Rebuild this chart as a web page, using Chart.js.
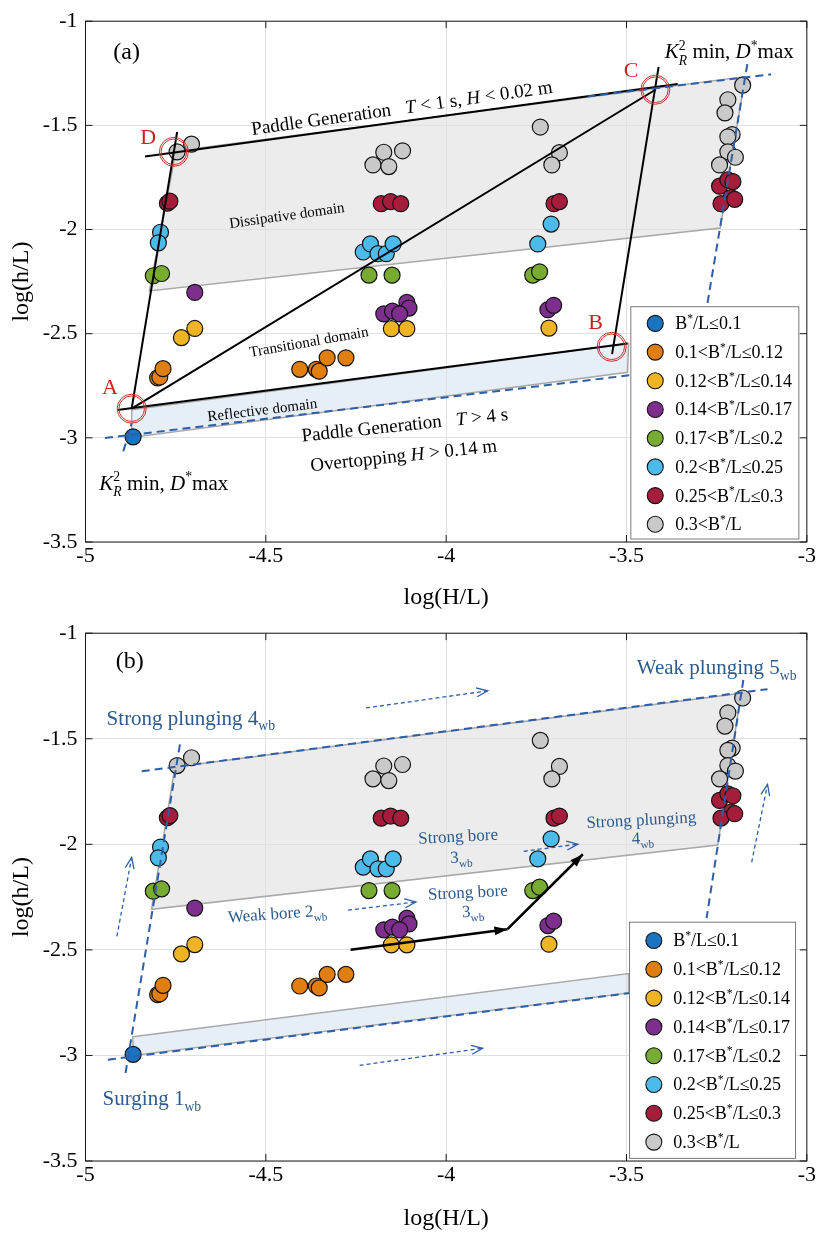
<!DOCTYPE html>
<html>
<head>
<meta charset="utf-8">
<title>log(h/L) vs log(H/L)</title>
<script src="https://cdn.jsdelivr.net/npm/chart.js@4.4.1/dist/chart.umd.min.js"></script>
<style>
  body { margin: 0; background: #fff; }
  .panel { position: absolute; left: 0; width: 817px; }
</style>
</head>
<body>
<div class="panel" style="top:0;height:612px"><canvas id="chartA"></canvas></div>
<div class="panel" style="top:612px;height:621px"><canvas id="chartB"></canvas></div>
<script>
const SERIF = '"Liberation Serif", "Times New Roman", serif';
Chart.defaults.font.family = SERIF;
Chart.defaults.color = '#000';

// classes of relative crest width B*/L
const categories = ['B*/L≤0.1', '0.1<B*/L≤0.12', '0.12<B*/L≤0.14', '0.14<B*/L≤0.17',
  '0.17<B*/L≤0.2', '0.2<B*/L≤0.25', '0.25<B*/L≤0.3', '0.3<B*/L'];
const catColors = ['#1a74bf', '#e07e12', '#efb423', '#7e2f8e', '#78ab32', '#4dbbe9', '#a51d3b', '#c9c9c9'];

// log(H/L) of every test, one array per class
const x010 = [-4.868];
const x012 = [-4.800, -4.794, -4.785, -4.406, -4.360, -4.352, -4.330, -4.278];
const x014 = [-4.734, -4.697, -4.152, -4.109, -3.715];
const x017 = [-4.697, -4.173, -4.149, -4.109, -4.103, -4.129, -3.718, -3.702];
const x020 = [-4.812, -4.789, -4.214, -4.150, -3.760, -3.741];
const x025 = [-4.792, -4.798, -4.230, -4.210, -4.189, -4.166, -4.147, -3.709, -3.746];
const x030 = [-4.773, -4.766, -4.180, -4.154, -4.126, -3.701, -3.686, -3.242, -3.219, -3.210, -3.238, -3.205, -3.200];
const x100 = [-4.746, -4.706, -4.173, -4.121, -4.203, -4.159, -3.739, -3.686, -3.707,
  -3.178, -3.219, -3.227, -3.207, -3.219, -3.219, -3.198, -3.242];

// log(h/L) of the same tests
const y010 = [-2.995];
const y012 = [-2.712, -2.708, -2.668, -2.671, -2.671, -2.680, -2.616, -2.616];
const y014 = [-2.519, -2.475, -2.476, -2.476, -2.473];
const y017 = [-2.302, -2.405, -2.392, -2.350, -2.377, -2.405, -2.385, -2.364];
const y020 = [-2.222, -2.211, -2.219, -2.219, -2.219, -2.203];
const y025 = [-2.013, -2.064, -2.108, -2.069, -2.116, -2.116, -2.069, -1.974, -2.069];
const y030 = [-1.874, -1.864, -1.876, -1.866, -1.876, -1.876, -1.866, -1.792, -1.761, -1.847, -1.876, -1.770, -1.855];
const y100 = [-1.627, -1.590, -1.629, -1.622, -1.690, -1.698, -1.508, -1.631, -1.690,
  -1.307, -1.377, -1.440, -1.544, -1.555, -1.627, -1.653, -1.690];

const seriesX = [x010, x012, x014, x017, x020, x025, x030, x100];
const seriesY = [y010, y012, y014, y017, y020, y025, y030, y100];

const xTicks = [-5, -4.5, -4, -3.5, -3];
const yTicks = [-3.5, -3, -2.5, -2, -1.5, -1];

// ---- annotations, corners in axis units [log(H/L), log(h/L)] ----
const DASH_BLUE = '#2d5ea8';
const TXT_BLUE = '#2c5b8e';

// panel (a)
const dissipA = [[-4.749, -1.623], [-3.171, -1.266], [-3.240, -1.993], [-4.823, -2.295]];
const reflectA = [[-4.872, -2.865], [-3.494, -2.547], [-3.497, -2.685], [-4.872, -2.998]];
const solidA = [
  [[-4.835, -1.650], [-3.358, -1.302]],  // paddle limit
  [[-4.746, -1.532], [-4.872, -2.860]],  // D - A
  [[-4.872, -2.860], [-3.420, -1.329]],  // A - C
  [[-4.912, -2.866], [-3.497, -2.547]],  // A - B
  [[-3.540, -2.598], [-3.411, -1.219]]   // B - C
];
const dashA = [
  [[-3.608, -1.361], [-3.099, -1.255]],
  [[-3.165, -1.206], [-3.280, -2.400]],
  [[-4.946, -3.001], [-3.483, -2.698]],
  [[-4.895, -3.064], [-4.872, -2.930]]
];
const ringsA = [[-4.872, -2.860], [-3.541, -2.563], [-3.420, -1.329], [-4.755, -1.627]];
const KR = [['K', 'i'], ['R', 'isub'], ['2', 'supStack'], [' min, ', 'n'], ['D', 'i'], ['*', 'sup'], ['max', 'n']];
const textsA = [
  { at: [-4.886, -1.145], size: 24, runs: [['(a)', 'n']] },
  { at: [-4.932, -2.756], size: 22, color: '#cc1f1f', runs: [['A', 'n']] },
  { at: [-3.586, -2.445], size: 22, color: '#cc1f1f', runs: [['B', 'n']] },
  { at: [-3.487, -1.235], size: 22, color: '#cc1f1f', runs: [['C', 'n']] },
  { at: [-4.826, -1.555], size: 22, color: '#cc1f1f', runs: [['D', 'n']] },
  { at: [-4.123, -1.415], size: 19, rot: -8, runs: [['Paddle Generation   ', 'n'], ['T', 'i'], [' < 1 s, ', 'n'], ['H', 'i'], [' < 0.02 m', 'n']] },
  { at: [-3.215, -1.145], size: 21, runs: KR },
  { at: [-4.783, -3.216], size: 21, runs: KR },
  { at: [-4.442, -1.931], size: 15, rot: -8, runs: [['Dissipative domain', 'n']] },
  { at: [-4.381, -2.538], size: 15, rot: -10, runs: [['Transitional domain', 'n']] },
  { at: [-4.510, -2.865], size: 15, rot: -7, runs: [['Reflective domain', 'n']] },
  { at: [-4.115, -2.936], size: 19, rot: -6, runs: [['Paddle Generation   ', 'n'], ['T', 'i'], [' > 4 s', 'n']] },
  { at: [-4.118, -3.083], size: 19, rot: -6, runs: [['Overtopping ', 'n'], ['H', 'i'], [' > 0.14 m', 'n']] }
];

// panel (b)
const dissipB = [[-4.752, -1.634], [-3.182, -1.284], [-3.247, -2.003], [-4.817, -2.308]];
const reflectB = [[-4.869, -2.911], [-3.494, -2.612], [-3.494, -2.704], [-4.867, -3.000]];
const dashB = [
  [[-4.844, -1.654], [-3.109, -1.265]],
  [[-3.176, -1.221], [-3.278, -2.350]],
  [[-4.889, -3.083], [-4.738, -1.525]],
  [[-4.938, -3.020], [-3.489, -2.704]]
];
const dashArrowsB = [
  [[-4.222, -1.354], [-3.885, -1.273]],
  [[-4.913, -2.436], [-4.872, -2.062]],
  [[-3.153, -2.085], [-3.109, -1.716]],
  [[-4.272, -2.312], [-4.084, -2.273]],
  [[-3.785, -2.033], [-3.635, -1.999]],
  [[-4.240, -3.047], [-3.899, -2.966]]
];
const pathArrowB = [[-4.265, -2.499], [-3.830, -2.402], [-3.621, -2.047]];
const textsB = [
  { at: [-4.877, -1.128], size: 24, runs: [['(b)', 'n']] },
  { at: [-4.708, -1.400], size: 21, color: TXT_BLUE, runs: [['Strong plunging 4', 'n'], ['wb', 'sub']] },
  { at: [-3.250, -1.159], size: 21, color: TXT_BLUE, runs: [['Weak plunging 5', 'n'], ['wb', 'sub']] },
  { at: [-4.816, -3.201], size: 21, color: TXT_BLUE, runs: [['Surging 1', 'n'], ['wb', 'sub']] },
  { at: [-4.468, -2.327], size: 17, rot: -4, color: TXT_BLUE, runs: [['Weak bore 2', 'n'], ['wb', 'sub']] },
  { at: [-3.967, -1.961], size: 17, rot: -3, color: TXT_BLUE, runs: [['Strong bore', 'n']] },
  { at: [-3.958, -2.059], size: 17, rot: -3, color: TXT_BLUE, runs: [['3', 'n'], ['wb', 'sub']] },
  { at: [-3.940, -2.226], size: 17, rot: -3, color: TXT_BLUE, runs: [['Strong bore', 'n']] },
  { at: [-3.926, -2.316], size: 17, rot: -3, color: TXT_BLUE, runs: [['3', 'n'], ['wb', 'sub']] },
  { at: [-3.459, -1.883], size: 17, rot: -3, color: TXT_BLUE, runs: [['Strong plunging', 'n']] },
  { at: [-3.455, -1.969], size: 17, rot: -3, color: TXT_BLUE, runs: [['4', 'n'], ['wb', 'sub']] }
];

// text run styles: italic, size factor, baseline shift (in em)
const STY = {
  n: { it: false, k: 1, dy: 0 },
  i: { it: true, k: 1, dy: 0 },
  sub: { it: false, k: 0.65, dy: 0.28 },
  isub: { it: true, k: 0.65, dy: 0.3 },
  sup: { it: false, k: 0.65, dy: -0.4 },
  supStack: { it: false, k: 0.65, dy: -0.42, stack: true }
};

function toPx(chart, p) {
  return [chart.scales.x.getPixelForValue(p[0]), chart.scales.y.getPixelForValue(p[1])];
}

function layoutRuns(ctx, runs, size) {
  let end = 0, lastStart = 0;
  const out = [];
  runs.forEach(([t, s]) => {
    const st = STY[s];
    ctx.font = (st.it ? 'italic ' : '') + (size * st.k).toFixed(1) + 'px ' + SERIF;
    const w = ctx.measureText(t).width;
    let rx;
    if (st.stack) {
      rx = lastStart;
      end = Math.max(end, rx + w);
    } else {
      rx = end;
      lastStart = rx;
      end = rx + w;
    }
    out.push({ t, font: ctx.font, x: rx, dy: st.dy * size });
  });
  return { out, width: end };
}

// draw a rich text centred on (cx, cy), or starting at cx when left is true
function drawRuns(ctx, runs, cx, cy, size, color, rot, left) {
  ctx.save();
  ctx.translate(cx, cy);
  ctx.rotate((rot || 0) * Math.PI / 180);
  const L = layoutRuns(ctx, runs, size);
  const x0 = left ? 0 : -L.width / 2;
  ctx.fillStyle = color;
  ctx.textAlign = 'left';
  ctx.textBaseline = 'alphabetic';
  L.out.forEach(r => {
    ctx.font = r.font;
    ctx.fillText(r.t, x0 + r.x, size * 0.33 + r.dy);
  });
  ctx.restore();
}

function segment(ctx, chart, s) {
  const [x1, y1] = toPx(chart, s[0]);
  const [x2, y2] = toPx(chart, s[1]);
  ctx.beginPath();
  ctx.moveTo(x1, y1);
  ctx.lineTo(x2, y2);
  ctx.stroke();
  return [x1, y1, x2, y2];
}

function openHead(ctx, x1, y1, x2, y2, len, spread) {
  const a = Math.atan2(y2 - y1, x2 - x1);
  ctx.beginPath();
  ctx.moveTo(x2 - len * Math.cos(a - spread), y2 - len * Math.sin(a - spread));
  ctx.lineTo(x2, y2);
  ctx.lineTo(x2 - len * Math.cos(a + spread), y2 - len * Math.sin(a + spread));
  ctx.stroke();
}

function filledHead(ctx, x1, y1, x2, y2, len, half) {
  const a = Math.atan2(y2 - y1, x2 - x1);
  const bx = x2 - len * Math.cos(a), by = y2 - len * Math.sin(a);
  ctx.beginPath();
  ctx.moveTo(x2, y2);
  ctx.lineTo(bx + half * Math.sin(a), by - half * Math.cos(a));
  ctx.lineTo(bx - half * Math.sin(a), by + half * Math.cos(a));
  ctx.closePath();
  ctx.fill();
}

function polyPath(ctx, chart, poly) {
  ctx.beginPath();
  poly.forEach((p, i) => {
    const [x, y] = toPx(chart, p);
    if (i) ctx.lineTo(x, y); else ctx.moveTo(x, y);
  });
  ctx.closePath();
}

function clipArea(ctx, a) {
  ctx.beginPath();
  ctx.rect(a.left, a.top, a.right - a.left, a.bottom - a.top);
  ctx.clip();
}

function sketchPlugin(spec) {
  return {
    id: 'sketch',
    // shaded domains go under the grid
    beforeDraw(chart) {
      const ctx = chart.ctx;
      ctx.save();
      clipArea(ctx, chart.chartArea);
      spec.fills.forEach(f => {
        polyPath(ctx, chart, f.poly);
        ctx.fillStyle = f.fill;
        ctx.fill();
      });
      ctx.restore();
    },
    beforeDatasetsDraw(chart) {
      const ctx = chart.ctx;
      ctx.save();
      clipArea(ctx, chart.chartArea);
      spec.fills.forEach(f => {
        polyPath(ctx, chart, f.poly);
        ctx.strokeStyle = '#a8a8a8';
        ctx.lineWidth = 1.5;
        ctx.stroke();
      });
      ctx.restore();
    },
    afterDatasetsDraw(chart) {
      const ctx = chart.ctx;
      ctx.save();
      clipArea(ctx, chart.chartArea);
      ctx.lineCap = 'butt';
      // black construction lines
      ctx.strokeStyle = '#000';
      ctx.lineWidth = 2;
      (spec.solid || []).forEach(s => segment(ctx, chart, s));
      // blue dashed domain limits
      ctx.strokeStyle = DASH_BLUE;
      ctx.lineWidth = 2;
      ctx.setLineDash([8, 5]);
      (spec.dashed || []).forEach(s => segment(ctx, chart, s));
      // thin dashed arrows
      ctx.lineWidth = 1.3;
      (spec.dashArrows || []).forEach(s => {
        ctx.setLineDash([4, 3]);
        const [x1, y1, x2, y2] = segment(ctx, chart, s);
        ctx.setLineDash([]);
        openHead(ctx, x1, y1, x2, y2, 12, 0.38);
      });
      ctx.setLineDash([]);
      // black path arrow
      if (spec.pathArrow) {
        ctx.strokeStyle = '#000';
        ctx.fillStyle = '#000';
        ctx.lineWidth = 2.5;
        for (let i = 0; i < spec.pathArrow.length - 1; i++) {
          const [x1, y1, x2, y2] = segment(ctx, chart, [spec.pathArrow[i], spec.pathArrow[i + 1]]);
          filledHead(ctx, x1, y1, x2, y2, 13, 4.5);
        }
      }
      // red double rings
      ctx.strokeStyle = '#d62b2b';
      ctx.lineWidth = 1;
      (spec.rings || []).forEach(p => {
        const [x, y] = toPx(chart, p);
        [14.5, 12.8].forEach(r => {
          ctx.beginPath();
          ctx.arc(x, y, r, 0, Math.PI * 2);
          ctx.stroke();
        });
      });
      ctx.restore();
      spec.texts.forEach(t => {
        const [x, y] = toPx(chart, t.at);
        drawRuns(ctx, t.runs, x, y, t.size, t.color || '#000', t.rot);
      });
    },
    afterDraw(chart) {
      const ctx = chart.ctx, a = chart.chartArea;
      ctx.save();
      // axes box with inward ticks
      ctx.strokeStyle = '#1a1a1a';
      ctx.lineWidth = 1;
      ctx.strokeRect(a.left, a.top, a.right - a.left, a.bottom - a.top);
      ctx.beginPath();
      xTicks.forEach(v => {
        const x = chart.scales.x.getPixelForValue(v);
        ctx.moveTo(x, a.bottom); ctx.lineTo(x, a.bottom - 7);
        ctx.moveTo(x, a.top); ctx.lineTo(x, a.top + 7);
      });
      yTicks.forEach(v => {
        const y = chart.scales.y.getPixelForValue(v);
        ctx.moveTo(a.left, y); ctx.lineTo(a.left + 7, y);
        ctx.moveTo(a.right, y); ctx.lineTo(a.right - 7, y);
      });
      ctx.stroke();

      // legend box inside the axes
      const lg = spec.legend;
      const bx = a.right - lg.right - lg.w, by = a.top + lg.top;
      const bh = lg.first + (categories.length - 1) * lg.rowH + lg.first - 2;
      ctx.fillStyle = '#fff';
      ctx.fillRect(bx, by, lg.w, bh);
      ctx.strokeStyle = '#7a7a7a';
      ctx.strokeRect(bx, by, lg.w, bh);
      categories.forEach((c, i) => {
        const cy = by + lg.first + i * lg.rowH;
        ctx.beginPath();
        ctx.arc(bx + lg.mx, cy, 8, 0, Math.PI * 2);
        ctx.fillStyle = catColors[i];
        ctx.fill();
        ctx.strokeStyle = '#141414';
        ctx.lineWidth = 1.1;
        ctx.stroke();
        const [pre, post] = c.split('*');
        drawRuns(ctx, [[pre, 'n'], ['*', 'sup'], [post, 'n']], bx + lg.tx, cy, 18, '#000', 0, true);
      });
      ctx.restore();
    }
  };
}

function buildDatasets() {
  return categories.map((c, i) => ({
    label: c,
    data: seriesX[i].map((x, j) => ({ x: x, y: seriesY[i][j] })),
    backgroundColor: catColors[i],
    borderColor: '#141414',
    borderWidth: 1.2,
    pointRadius: 8,
    pointHoverRadius: 8,
    order: -i
  }));
}

function makeChart(id, spec) {
  return new Chart(document.getElementById(id), {
    type: 'scatter',
    data: { datasets: buildDatasets() },
    options: {
      responsive: true,
      maintainAspectRatio: false,
      animation: false,
      devicePixelRatio: 1,
      events: [],
      layout: { padding: { left: 0, right: 9, top: spec.padTop, bottom: 0 } },
      plugins: { legend: { display: false }, tooltip: { enabled: false } },
      scales: {
        x: {
          type: 'linear',
          min: -5,
          max: -3,
          afterBuildTicks: s => { s.ticks = xTicks.map(v => ({ value: v })); },
          afterFit: s => { s.height = spec.xAxisH; },
          grid: { color: '#e0e0e0', drawTicks: false },
          border: { display: false },
          ticks: { font: { size: 22 }, color: '#000', padding: 1, maxRotation: 0, autoSkip: false, callback: v => String(v) },
          title: { display: true, text: 'log(H/L)', font: { size: 24 }, color: '#000', padding: { top: spec.xTitlePad, bottom: 0 } }
        },
        y: {
          type: 'linear',
          min: -3.5,
          max: -1,
          afterBuildTicks: s => { s.ticks = yTicks.map(v => ({ value: v })); },
          afterFit: s => { s.width = 85.5; },
          grid: { color: '#e0e0e0', drawTicks: false },
          border: { display: false },
          ticks: { font: { size: 22 }, color: '#000', padding: 8, autoSkip: false, callback: v => String(v) },
          title: { display: true, text: 'log(h/L)', font: { size: 24 }, color: '#000', padding: { top: 7.5, bottom: 0 } }
        }
      }
    },
    plugins: [sketchPlugin(spec)]
  });
}

makeChart('chartA', {
  padTop: 14.5, xAxisH: 70, xTitlePad: 2.6,
  fills: [{ poly: dissipA, fill: '#ececec' }, { poly: reflectA, fill: '#e6eef8' }],
  solid: solidA,
  dashed: dashA,
  rings: ringsA,
  texts: textsA,
  legend: { right: 8, top: 285.5, w: 168, rowH: 28.7, first: 16.7, mx: 24.4, tx: 44.4 }
});

makeChart('chartB', {
  padTop: 14, xAxisH: 72, xTitlePad: 4.6,
  fills: [{ poly: dissipB, fill: '#ececec' }, { poly: reflectB, fill: '#e6eef8' }],
  dashed: dashB,
  dashArrows: dashArrowsB,
  pathArrow: pathArrowB,
  texts: textsB,
  legend: { right: 11.3, top: 289, w: 166, rowH: 28.8, first: 18.3, mx: 24.3, tx: 43.6 }
});
</script>
</body>
</html>
